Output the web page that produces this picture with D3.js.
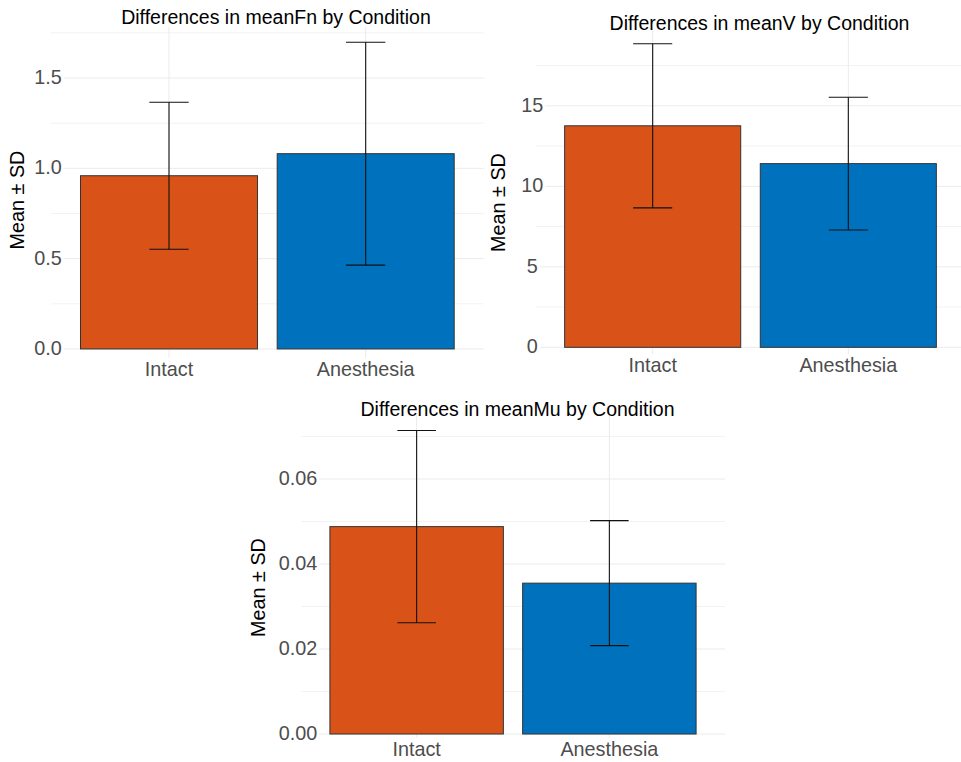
<!DOCTYPE html>
<html>
<head>
<meta charset="utf-8">
<script src="https://cdn.jsdelivr.net/npm/d3@7"></script>
<style>
  body { margin: 0; background: #fff; }
  svg { display: block; font-family: "Liberation Sans", Arial, Helvetica, sans-serif; }
</style>
</head>
<body>
<div id="chart"></div>
<script>
// data
var categories = ['Intact', 'Anesthesia'];
var barColors = ['#D95319', '#0072BD'];

var fnMean = [0.959, 1.081];
var fnSD = [0.407, 0.617];
var fnTicks = [0, 0.5, 1.0, 1.5];
var fnMinor = [0.25, 0.75, 1.25, 1.75];

var vMean = [13.76, 11.41];
var vSD = [5.10, 4.12];
var vTicks = [0, 5, 10, 15];
var vMinor = [2.5, 7.5, 12.5, 17.5];

var muMean = [0.0488, 0.0355];
var muSD = [0.0226, 0.0147];
var muTicks = [0, 0.02, 0.04, 0.06];
var muMinor = [0.01, 0.03, 0.05, 0.07];

var width = 961, height = 762;
var svg = d3.select('#chart').append('svg')
    .attr('width', width)
    .attr('height', height);

function drawPanel(opts) {
    var g = svg.append('g');
    var data = categories.map(function (c, i) {
        return { cat: c, mean: opts.mean[i], sd: opts.sd[i], color: barColors[i] };
    });
    var maxVal = d3.max(data, function (d) { return d.mean + d.sd; });
    var pad = maxVal * 0.05;

    var x = d3.scalePoint()
        .domain(categories)
        .range([opts.left, opts.right])
        .padding(0.6);
    var step = x.step();
    var y = d3.scaleLinear()
        .domain([-pad, maxVal + pad])
        .range([opts.bottom, opts.top]);

    // grid
    g.selectAll('line.minor').data(opts.minor).enter().append('line')
        .attr('x1', opts.left).attr('x2', opts.right)
        .attr('y1', function (d) { return y(d); })
        .attr('y2', function (d) { return y(d); })
        .attr('stroke', '#f2f2f2').attr('stroke-width', 1);
    g.selectAll('line.major').data(opts.ticks).enter().append('line')
        .attr('x1', opts.left).attr('x2', opts.right)
        .attr('y1', function (d) { return y(d); })
        .attr('y2', function (d) { return y(d); })
        .attr('stroke', '#ebebeb').attr('stroke-width', 1);
    g.selectAll('line.vgrid').data(categories).enter().append('line')
        .attr('x1', function (d) { return x(d); })
        .attr('x2', function (d) { return x(d); })
        .attr('y1', opts.top).attr('y2', opts.bottom)
        .attr('stroke', '#ebebeb').attr('stroke-width', 1);

    // bars
    g.selectAll('rect.bar').data(data).enter().append('rect')
        .attr('x', function (d) { return x(d.cat) - step * 0.45; })
        .attr('width', step * 0.9)
        .attr('y', function (d) { return y(d.mean); })
        .attr('height', function (d) { return y(0) - y(d.mean); })
        .attr('fill', function (d) { return d.color; })
        .attr('stroke', '#333')
        .attr('stroke-width', 1);

    // error bars
    var err = g.selectAll('g.err').data(data).enter().append('g');
    err.append('line')
        .attr('x1', function (d) { return x(d.cat); })
        .attr('x2', function (d) { return x(d.cat); })
        .attr('y1', function (d) { return y(d.mean - d.sd); })
        .attr('y2', function (d) { return y(d.mean + d.sd); });
    err.append('line')
        .attr('x1', function (d) { return x(d.cat) - step * 0.1; })
        .attr('x2', function (d) { return x(d.cat) + step * 0.1; })
        .attr('y1', function (d) { return y(d.mean + d.sd); })
        .attr('y2', function (d) { return y(d.mean + d.sd); });
    err.append('line')
        .attr('x1', function (d) { return x(d.cat) - step * 0.1; })
        .attr('x2', function (d) { return x(d.cat) + step * 0.1; })
        .attr('y1', function (d) { return y(d.mean - d.sd); })
        .attr('y2', function (d) { return y(d.mean - d.sd); });
    err.selectAll('line').attr('stroke', '#111').attr('stroke-width', 1.1);

    // y tick labels (sit on top of the grid with a white backing)
    var yt = g.selectAll('g.ytick').data(opts.ticks).enter().append('g')
        .attr('transform', function (d) { return 'translate(' + (opts.left - 3) + ',' + y(d) + ')'; });
    yt.append('rect').attr('fill', '#fff');
    yt.append('text')
        .attr('text-anchor', 'middle')
        .attr('dy', '0.3em')
        .attr('fill', '#4d4d4d')
        .style('font-size', '19.8px')
        .text(opts.format);
    yt.each(function () {
        var t = d3.select(this).select('text').node().getBBox();
        d3.select(this).select('rect')
            .attr('x', t.x - 1).attr('y', t.y + 2)
            .attr('width', t.width + 3).attr('height', t.height - 4);
    });

    // x tick labels
    var xt = g.selectAll('g.xtick').data(categories).enter().append('g')
        .attr('transform', function (d) { return 'translate(' + x(d) + ',' + (y(0) + opts.xLabelDy) + ')'; });
    xt.append('rect').attr('fill', '#fff');
    xt.append('text')
        .attr('text-anchor', 'middle')
        .attr('fill', '#4d4d4d')
        .style('font-size', '19.8px')
        .text(function (d) { return d; });
    xt.each(function () {
        var t = d3.select(this).select('text').node().getBBox();
        d3.select(this).select('rect')
            .attr('x', t.x).attr('y', t.y)
            .attr('width', t.width).attr('height', t.height);
    });

    // title
    g.append('text')
        .attr('x', opts.titleX)
        .attr('y', opts.titleY)
        .attr('text-anchor', 'middle')
        .attr('fill', '#000')
        .style('font-size', '19.5px')
        .text(opts.title);

    // y axis label
    g.append('text')
        .attr('transform', 'translate(' + opts.yLabelX + ',' + opts.yLabelY + ') rotate(-90)')
        .attr('text-anchor', 'middle')
        .attr('fill', '#000')
        .style('font-size', '19.8px')
        .text('Mean \u00b1 SD');
}

drawPanel({
    title: 'Differences in meanFn by Condition',
    mean: fnMean, sd: fnSD, ticks: fnTicks, minor: fnMinor,
    format: d3.format('.1f'),
    left: 51, right: 483.7, top: 26.9, bottom: 364.3,
    titleX: 276, titleY: 23.5, xLabelDy: 27,
    yLabelX: 24, yLabelY: 200
});

drawPanel({
    title: 'Differences in meanV by Condition',
    mean: vMean, sd: vSD, ticks: vTicks, minor: vMinor,
    format: d3.format('d'),
    left: 535.3, right: 965.7, top: 28.5, bottom: 362.5,
    titleX: 759.5, titleY: 29.5, xLabelDy: 25,
    yLabelX: 505, yLabelY: 202.5
});

drawPanel({
    title: 'Differences in meanMu by Condition',
    mean: muMean, sd: muSD, ticks: muTicks, minor: muMinor,
    format: d3.format('.2f'),
    left: 301, right: 725, top: 415.4, bottom: 749.2,
    titleX: 517.5, titleY: 416, xLabelDy: 21.7,
    yLabelX: 265, yLabelY: 587.5
});
</script>
</body>
</html>
